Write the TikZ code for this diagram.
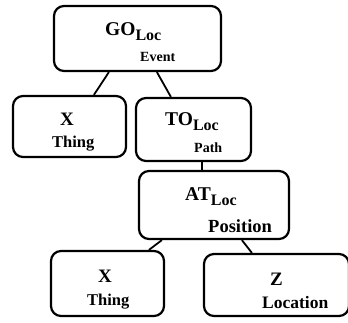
\documentclass[tikz,border=0pt]{standalone}
\usepackage{fontspec}
\setmainfont{Liberation Serif}
\newcommand{\headsym}[1]{{\fontsize{19.5}{19.5}\selectfont\bfseries #1}\raisebox{-5.5pt}{\fontsize{16}{16}\selectfont\bfseries Loc}}
\begin{document}
\begin{tikzpicture}[x=1pt,y=-1pt,
  box/.style={draw, line width=2.2pt, rounded corners=10pt, inner sep=0pt},
  txt/.style={anchor=base west, inner sep=0pt},
  conn/.style={line width=1.8pt}]
\useasboundingbox (0,0) rectangle (348,322);
% boxes
\node[box, minimum width=167pt, minimum height=65pt] (go) at (137.5,38.5) {};
\node[box, minimum width=113pt, minimum height=61pt] (x1) at (69.5,126.5) {};
\node[box, minimum width=115pt, minimum height=63pt] (to) at (193.5,129.5) {};
\node[box, minimum width=150pt, minimum height=68pt] (at) at (214,205) {};
\node[box, minimum width=113pt, minimum height=65pt] (x2) at (107.5,283.5) {};
\node[box, minimum width=145pt, minimum height=62pt] (z) at (276.5,285) {};
% texts
\node[txt] (goT) at (105,35) {\headsym{GO}};
\node[txt] (goL) at (140,61) {\fontsize{14}{14}\selectfont\bfseries Event};
\node[txt] (x1T) at (60,125) {\fontsize{19}{19}\selectfont\bfseries X};
\node[txt] (x1L) at (52,147) {\fontsize{16.5}{16.5}\selectfont\bfseries Thing};
\node[txt] (toT) at (165,125) {\headsym{TO}};
\node[txt] (toL) at (194,152) {\fontsize{14}{14}\selectfont\bfseries Path};
\node[txt] (atT) at (185,200) {\headsym{AT}};
\node[txt] (atL) at (208,232) {\fontsize{18.5}{18.5}\selectfont\bfseries Position};
\node[txt] (x2T) at (98,282) {\fontsize{19}{19}\selectfont\bfseries X};
\node[txt] (x2L) at (87,305) {\fontsize{16.5}{16.5}\selectfont\bfseries Thing};
\node[txt] (zT) at (270,285) {\fontsize{19}{19}\selectfont\bfseries Z};
\node[txt] (zL) at (262,308) {\fontsize{17.5}{17.5}\selectfont\bfseries Location};
% connectors
\draw[conn] ([xshift=56pt]go.south west) -- ([xshift=82pt]x1.north west);
\draw[conn] ([xshift=104pt]go.south west) -- ([xshift=36pt]to.north west);
\draw[conn] ([xshift=67pt]to.south west) -- ([xshift=64pt]at.north west);
\draw[conn] ([xshift=24pt]at.south west) -- ([xshift=99pt]x2.north west);
\draw[conn] ([xshift=104pt]at.south west) -- ([xshift=49pt]z.north west);
\end{tikzpicture}
\end{document}
